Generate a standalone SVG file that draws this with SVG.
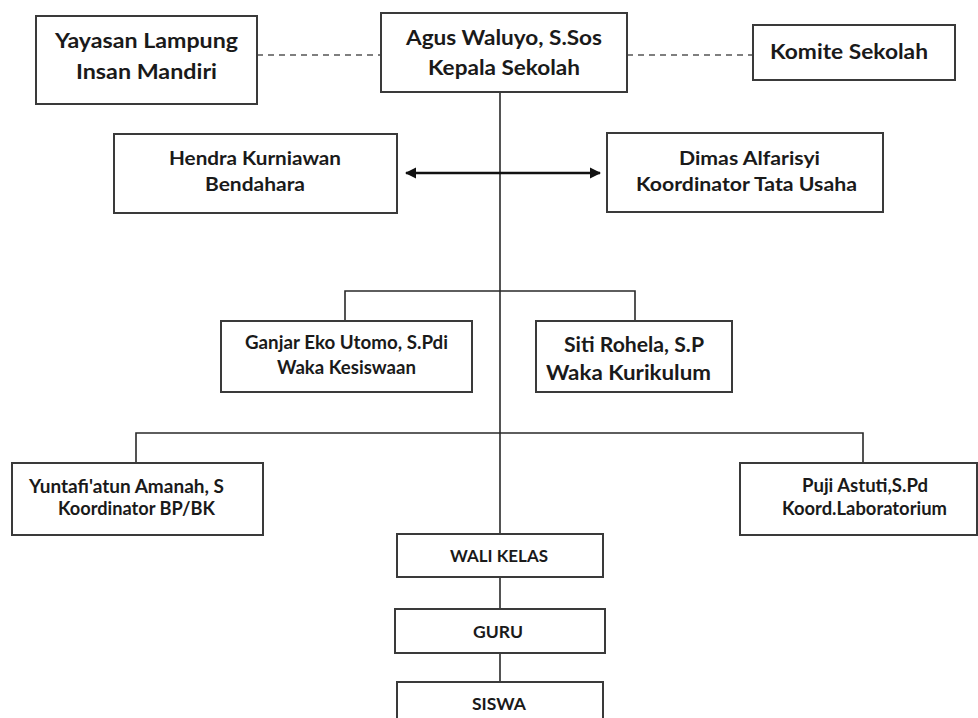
<svg xmlns="http://www.w3.org/2000/svg" width="978" height="718" viewBox="0 0 978 718">
<defs>
<style>
.box{fill:#fff;stroke:#3a3a3a;stroke-width:2}
.ln{fill:none;stroke:#2a2a2a;stroke-width:1.6}
.dash{fill:none;stroke:#555;stroke-width:1.6;stroke-dasharray:6 5}
text{font-family:Lato,"Open Sans","Liberation Sans",sans-serif;font-weight:bold;fill:#1a1a1a;text-anchor:start}
.a{font-size:21px}
.m{font-size:19px}
.b{font-size:18px}
.c{font-size:17px}
</style>
<marker id="ah" viewBox="0 0 10 10" refX="9" refY="5" markerWidth="4.5" markerHeight="4.5" orient="auto-start-reverse">
<path d="M0,0 L10,5 L0,10 Z" fill="#111"/>
</marker>
</defs>
<rect width="978" height="718" fill="#fff"/>
<g id="connectors">
<line class="dash" x1="257" y1="55" x2="381" y2="55"/>
<line class="dash" x1="627" y1="55" x2="753" y2="55"/>
<line class="ln" x1="500" y1="92" x2="500" y2="534"/>
<line class="ln" x1="500" y1="577" x2="500" y2="609"/>
<line class="ln" x1="500" y1="653" x2="500" y2="682"/>
<line x1="406" y1="173" x2="600" y2="173" stroke="#111" stroke-width="2.5" marker-start="url(#ah)" marker-end="url(#ah)"/>
<polyline class="ln" points="345,321 345,291 635,291 635,321"/>
<polyline class="ln" points="136,463 136,433 863,433 863,463"/>
</g>
<g id="yayasan"><rect class="box" x="36" y="16" width="221" height="88"/>
<text class="a" x="55" y="48" textLength="183" lengthAdjust="spacingAndGlyphs">Yayasan Lampung</text><text class="a" x="76" y="79" textLength="141" lengthAdjust="spacingAndGlyphs">Insan Mandiri</text></g>
<g id="kepala"><rect class="box" x="381" y="13" width="246" height="79"/>
<text class="a" x="406" y="45" textLength="196" lengthAdjust="spacingAndGlyphs">Agus Waluyo, S.Sos</text><text class="a" x="428" y="75" textLength="152" lengthAdjust="spacingAndGlyphs">Kepala Sekolah</text></g>
<g id="komite"><rect class="box" x="753" y="25" width="202" height="55"/>
<text class="a" x="770" y="59" textLength="158" lengthAdjust="spacingAndGlyphs">Komite Sekolah</text></g>
<g id="bendahara"><rect class="box" x="114" y="134" width="283" height="79"/>
<text class="m" x="169" y="165" textLength="172" lengthAdjust="spacingAndGlyphs">Hendra Kurniawan</text><text class="m" x="205" y="191" textLength="100" lengthAdjust="spacingAndGlyphs">Bendahara</text></g>
<g id="tatausaha"><rect class="box" x="607" y="133" width="276" height="79"/>
<text class="m" x="679" y="165" textLength="141" lengthAdjust="spacingAndGlyphs">Dimas Alfarisyi</text><text class="m" x="636" y="191" textLength="221" lengthAdjust="spacingAndGlyphs">Koordinator Tata Usaha</text></g>
<g id="kesiswaan"><rect class="box" x="221" y="321" width="251" height="71"/>
<text class="b" x="245" y="349" textLength="203" lengthAdjust="spacingAndGlyphs">Ganjar Eko Utomo, S.Pdi</text><text class="b" x="277" y="374" textLength="139" lengthAdjust="spacingAndGlyphs">Waka Kesiswaan</text></g>
<g id="kurikulum"><rect class="box" x="536" y="321" width="196" height="71"/>
<text class="a" x="564" y="352" textLength="140" lengthAdjust="spacingAndGlyphs">Siti Rohela, S.P</text><text class="a" x="546" y="380" textLength="165" lengthAdjust="spacingAndGlyphs">Waka Kurikulum</text></g>
<g id="bpbk"><rect class="box" x="12" y="463" width="251" height="72"/>
<text class="b" x="29" y="493" textLength="195" lengthAdjust="spacingAndGlyphs">Yuntafi'atun Amanah, S</text><text class="b" x="58" y="515" textLength="157" lengthAdjust="spacingAndGlyphs">Koordinator BP/BK</text></g>
<g id="lab"><rect class="box" x="740" y="463" width="237" height="72"/>
<text class="b" x="802" y="492" textLength="126" lengthAdjust="spacingAndGlyphs">Puji Astuti,S.Pd</text><text class="b" x="782" y="515" textLength="165" lengthAdjust="spacingAndGlyphs">Koord.Laboratorium</text></g>
<g id="walikelas"><rect class="box" x="397" y="534" width="206" height="43"/>
<text class="c" x="450" y="562" textLength="98" lengthAdjust="spacingAndGlyphs">WALI KELAS</text></g>
<g id="guru"><rect class="box" x="395" y="609" width="210" height="44"/>
<text class="c" x="473" y="638" textLength="50" lengthAdjust="spacingAndGlyphs">GURU</text></g>
<g id="siswa"><rect class="box" x="397" y="682" width="206" height="44"/>
<text class="c" x="472" y="710" textLength="54" lengthAdjust="spacingAndGlyphs">SISWA</text></g>
</svg>
